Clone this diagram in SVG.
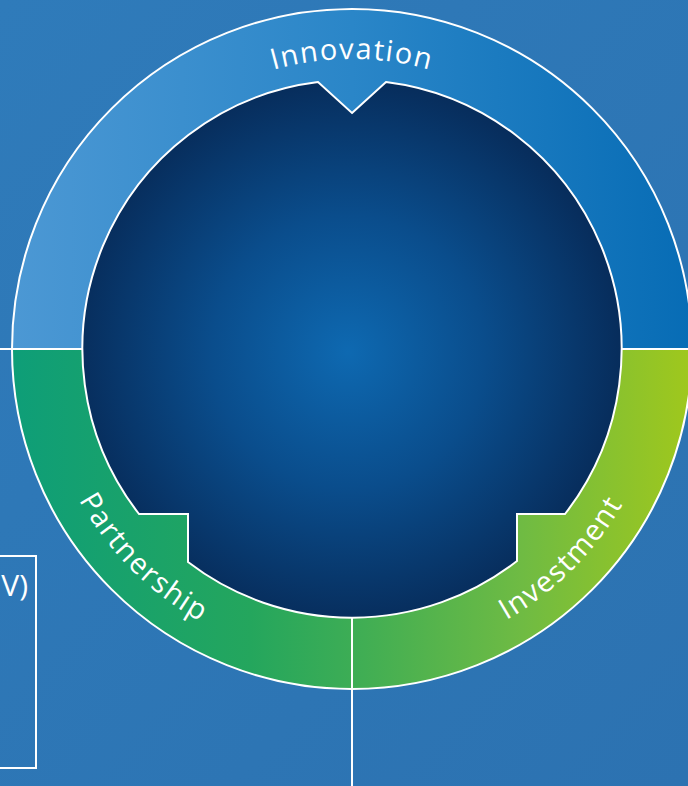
<svg xmlns="http://www.w3.org/2000/svg" width="688" height="786" viewBox="0 0 688 786">
  <defs>
    <linearGradient id="bg" x1="0" y1="0" x2="1" y2="1">
      <stop offset="0" stop-color="#2f7bba"/>
      <stop offset="1" stop-color="#2c72b1"/>
    </linearGradient>
    <linearGradient id="blueBand" gradientUnits="userSpaceOnUse" x1="12" y1="0" x2="692" y2="0">
      <stop offset="0" stop-color="#4c98d4"/>
      <stop offset="0.5" stop-color="#2a86c8"/>
      <stop offset="1" stop-color="#076cb5"/>
    </linearGradient>
    <linearGradient id="greenBand" gradientUnits="userSpaceOnUse" x1="12" y1="0" x2="692" y2="0">
      <stop offset="0" stop-color="#0e9e78"/>
      <stop offset="0.35" stop-color="#24a65d"/>
      <stop offset="0.5" stop-color="#3dad55"/>
      <stop offset="0.75" stop-color="#6fbb43"/>
      <stop offset="1" stop-color="#a0c81c"/>
    </linearGradient>
    <radialGradient id="core" gradientUnits="userSpaceOnUse" cx="348" cy="352" r="272">
      <stop offset="0" stop-color="#0e69b1"/>
      <stop offset="0.5" stop-color="#0a4d8c"/>
      <stop offset="1" stop-color="#072d5c"/>
    </radialGradient>
    <path id="arcTop" d="M 62 349 A 290 290 0 0 1 642 349"/>
    <path id="arcLeft" d="M 40 349 A 312 312 0 0 0 352 661"/>
    <path id="arcRight" d="M 352 661 A 312 312 0 0 0 664 349"/>
  </defs>
  <style>
    .rule { stroke: #ffffff; stroke-width: 2; fill: none; }
    .label { font-family: "Open Sans", "Liberation Sans", sans-serif; font-size: 29px; fill: #ffffff; letter-spacing: 1.5px; }
  </style>

  <rect width="688" height="786" fill="url(#bg)"/>

  <!-- ring bands -->
  <g id="ring">
    <path d="M 12 349 A 340 340 0 0 1 692 349 Z" fill="url(#blueBand)"/>
    <path d="M 12 349 A 340 340 0 0 0 352 689 L 352 349 Z" fill="url(#greenBand)"/>
    <path d="M 352 689 A 340 340 0 0 0 692 349 L 352 349 Z" fill="url(#greenBand)"/>
    <circle cx="352" cy="349" r="340" class="rule"/>
  </g>

  <!-- connectors: band dividers and outgoing rules -->
  <g id="connectors">
    <line x1="0" y1="349" x2="84" y2="349" class="rule"/>
    <line x1="620" y1="349" x2="688" y2="349" class="rule"/>
    <line x1="352" y1="617" x2="352" y2="786" class="rule"/>
  </g>

  <!-- notched centre disc -->
  <g id="core-disc">
    <path d="M 352 113 L 386 82 A 269 269 0 0 1 565 514 L 517 514 L 517 561 A 269 269 0 0 1 188 562 L 188 514 L 139 514 A 269 269 0 0 1 318 82 Z" fill="url(#core)" stroke="#ffffff" stroke-width="2"/>
  </g>

  <g id="innovation">
    <text class="label"><textPath href="#arcTop" startOffset="50%" text-anchor="middle">Innovation</textPath></text>
  </g>
  <g id="partnership">
    <text class="label"><textPath href="#arcLeft" startOffset="50%" text-anchor="middle">Partnership</textPath></text>
  </g>
  <g id="investment">
    <text class="label"><textPath href="#arcRight" startOffset="50%" text-anchor="middle">Investment</textPath></text>
  </g>

  <g id="side-box">
    <rect x="-2" y="556" width="38" height="212" class="rule" stroke-width="1.5"/>
    <text x="28" y="596" text-anchor="end" font-family="Open Sans, Liberation Sans, sans-serif" font-size="30" fill="#ffffff">V)</text>
  </g>
</svg>
